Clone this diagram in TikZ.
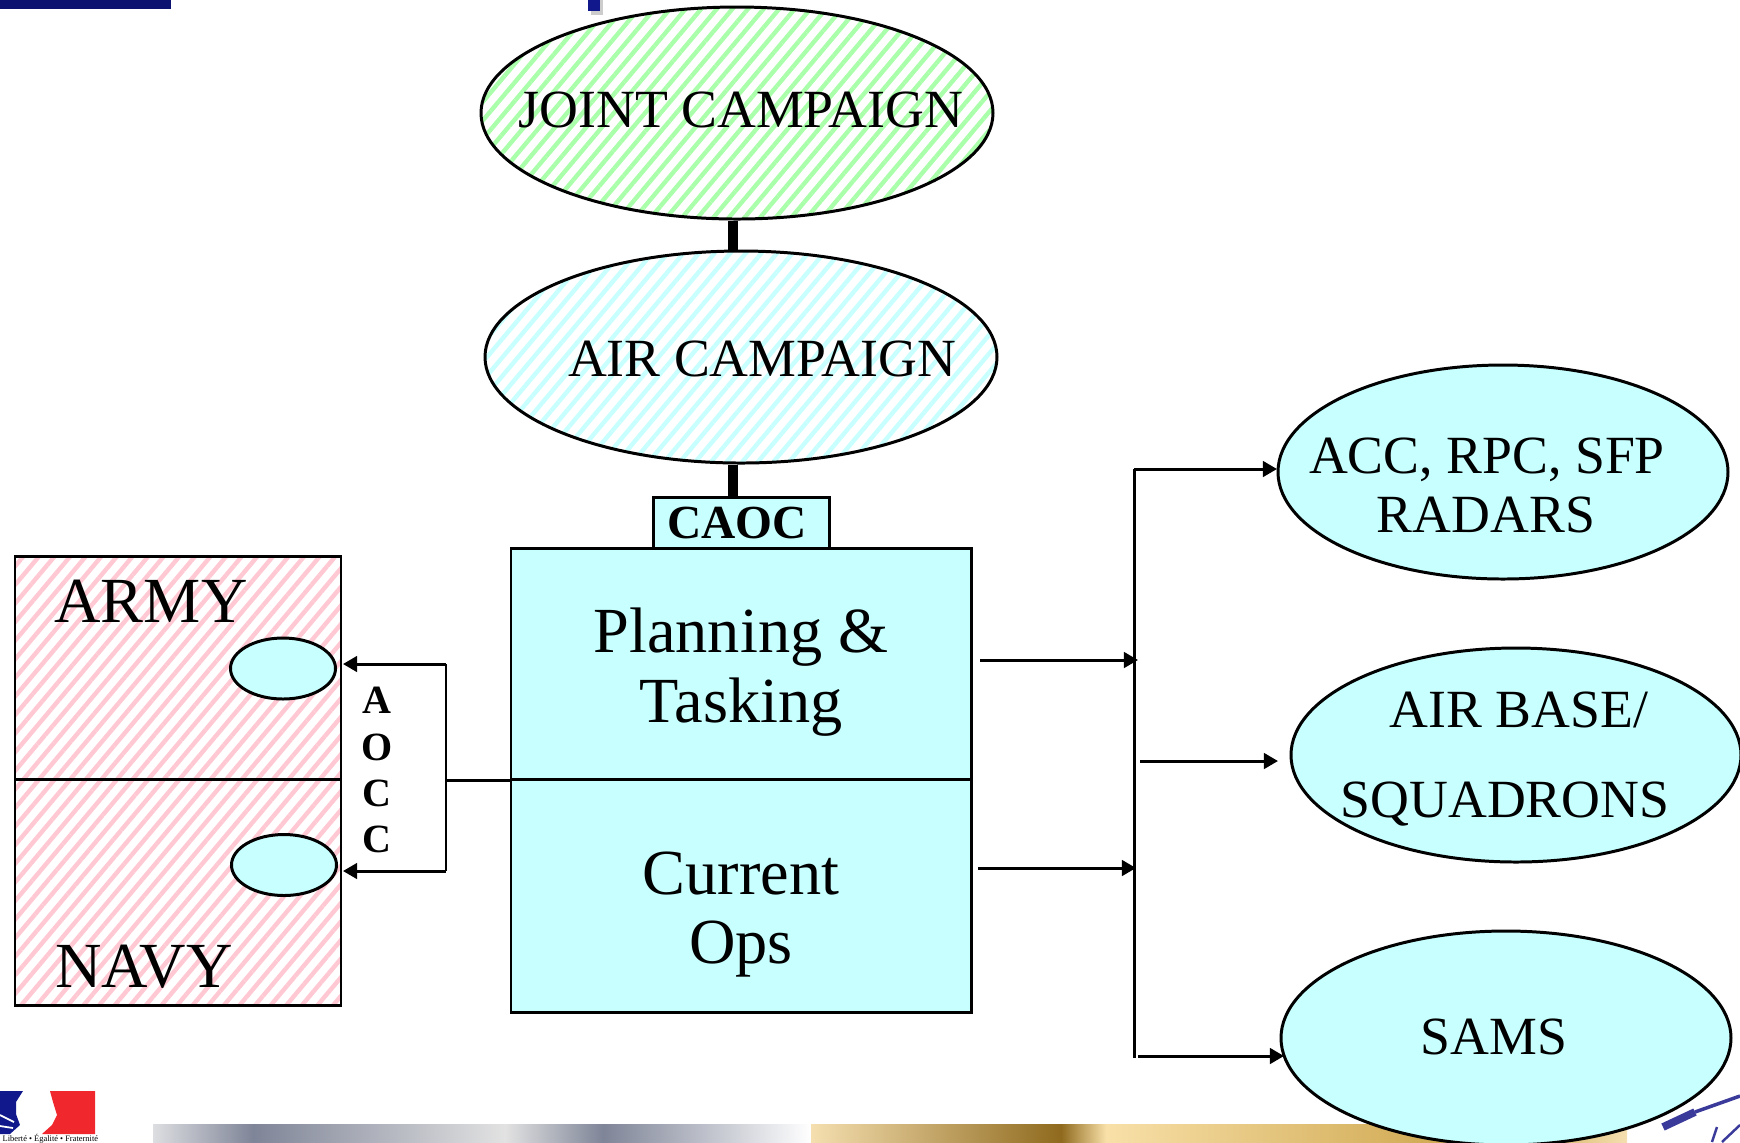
\documentclass[tikz,border=0pt]{standalone}
\usepackage{fontspec}
\setmainfont{Liberation Serif}
\usepackage{tikz}
\usetikzlibrary{shapes.geometric,patterns.meta,arrows.meta}
\definecolor{cyanfill}{HTML}{C8FFFF}
\definecolor{pinkline}{HTML}{FFC8D2}
\definecolor{greenline}{HTML}{AAFFAA}
\definecolor{navybar}{HTML}{0C1270}
\definecolor{flagblue}{HTML}{10188C}
\definecolor{flagred}{HTML}{F0282E}
\definecolor{grayA}{HTML}{DDDEE1}
\definecolor{grayB}{HTML}{7F8598}
\definecolor{grayC}{HTML}{E2E2E2}
\definecolor{goldA}{HTML}{F5DFB0}
\definecolor{goldB}{HTML}{8F6A1E}
\definecolor{goldC}{HTML}{F8E0A8}
\definecolor{goldD}{HTML}{C9A044}
\definecolor{inkblue}{HTML}{3A3A9A}
\tikzset{
  outline/.style={draw=black,line width=0.85pt,inner sep=0pt},
  bigoval/.style={outline,ellipse,minimum width=5.12cm,minimum height=2.12cm},
  sideoval/.style={outline,ellipse,fill=cyanfill,minimum width=4.50cm,minimum height=2.14cm},
  smalloval/.style={outline,ellipse,fill=cyanfill,minimum width=1.05cm,minimum height=0.61cm},
  greenhatch/.style={pattern={Lines[angle=50,distance=3.4pt,line width=1.25pt]},pattern color=greenline},
  cyanhatch/.style={pattern={Lines[angle=50,distance=3.4pt,line width=1.25pt]},pattern color=cyanfill},
  pinkhatch/.style={pattern={Lines[angle=50,distance=3.4pt,line width=1.25pt]},pattern color=pinkline},
  servicebox/.style={outline,rectangle,pinkhatch,minimum width=3.26cm},
  cellbox/.style={outline,rectangle,fill=cyanfill,minimum width=4.60cm},
  txtA/.style={anchor=base,inner sep=0pt,font=\fontsize{15.3}{18}\selectfont},
  txtB/.style={anchor=base,inner sep=0pt,font=\fontsize{18.3}{22}\selectfont},
  txtC/.style={anchor=base,inner sep=0pt,font=\fontsize{13.5}{16}\selectfont\bfseries},
  txtD/.style={anchor=base,inner sep=0pt,font=\fontsize{11.4}{14}\selectfont\bfseries},
  heavy/.style={line width=2.85pt},
  feed/.style={line width=0.85pt},
  tip/.style={line width=0.85pt,-{Triangle[length=4pt,width=4.4pt]}},
}
\begin{document}
\begin{tikzpicture}[x=1cm,y=-1cm]
    \useasboundingbox (0,0) rectangle (17.40,11.42);

    % slide furniture
    \fill[navybar] (0,0) rectangle (1.71,0.09);
    \fill[black!20] (5.91,0) rectangle (6.03,0.15);
    \fill[flagblue] (5.88,0) rectangle (6.00,0.11);
    \shade[left color=grayA,right color=grayB] (1.53,11.24) rectangle (2.53,11.42);
    \shade[left color=grayB,right color=grayC] (2.53,11.24) rectangle (5.05,11.42);
    \shade[left color=grayC,right color=grayB] (5.05,11.24) rectangle (6.03,11.42);
    \shade[left color=grayB,right color=white] (6.03,11.24) rectangle (8.11,11.42);
    \shade[left color=goldA,right color=goldB] (8.11,11.24) rectangle (10.61,11.42);
    \shade[left color=goldB,right color=goldC] (10.61,11.24) rectangle (11.06,11.42);
    \shade[left color=goldC,right color=goldD] (11.06,11.24) rectangle (15.00,11.42);
    \shade[left color=goldD,right color=goldA] (15.00,11.24) rectangle (16.27,11.42);

    % logo and signature
    \fill[flagblue] (0,10.91) -- (0.23,10.91) -- (0.16,11.02) -- (0.16,11.14) -- (0.20,11.25) -- (0.10,11.34) -- (0,11.34) -- cycle;
    \draw[white,line width=0.5pt] (0,11.15) -- (0.14,11.22);
    \draw[white,line width=0.5pt] (0,11.26) -- (0.13,11.28);
    \fill[flagred] (0.50,10.91) -- (0.95,10.91) -- (0.95,11.34) -- (0.42,11.34) -- (0.52,11.25) -- (0.57,11.15) -- (0.53,11.02) -- cycle;
    \node[anchor=base west,inner sep=0pt,font=\fontsize{2.4}{3}\selectfont] (motto) at (0.02,11.41) {Liberté • Égalité • Fraternité};
    \draw[inkblue,line width=2.2pt] (16.63,11.27) -- (16.95,11.12);
    \draw[inkblue,line width=1pt] (16.95,11.12) -- (17.40,10.96);
    \draw[inkblue,line width=0.7pt] (17.17,11.27) -- (17.12,11.42);
    \draw[inkblue,line width=0.7pt] (17.40,11.25) -- (17.22,11.42);

    % campaign chain
    \node[bigoval,greenhatch] (joint) at (7.37,1.13) {};
    \node[bigoval,cyanhatch] (air) at (7.41,3.57) {};
    \node[outline,rectangle,fill=cyanfill,minimum width=1.76cm,minimum height=0.51cm] (caoc) at (7.41,5.225) {};
    \node[cellbox,minimum height=2.31cm] (plan) at (7.41,6.635) {};
    \node[cellbox,minimum height=2.33cm] (ops) at (7.41,8.955) {};
    \draw[heavy] ([xshift=-0.04cm]joint.south) -- ([xshift=-0.08cm]air.north);
    \draw[heavy] ([xshift=-0.08cm]air.south) -- ([xshift=-0.08cm]caoc.north);

    % services on the left
    \node[servicebox,minimum height=2.23cm] (army) at (1.78,6.675) {};
    \node[servicebox,minimum height=2.26cm] (navy) at (1.78,8.92) {};
    \node[smalloval] (armyoval) at (2.83,6.685) {};
    \node[smalloval] (navyoval) at (2.84,8.65) {};

    % AOCC link
    \coordinate (upper) at (4.46,6.64);
    \coordinate (lower) at (4.46,8.71);
    \coordinate (upperend) at (3.43,6.64);
    \coordinate (lowerend) at (3.43,8.71);
    \draw[feed] (plan.south west) -- (plan.south west -| upper);
    \draw[feed] (upper) -- (lower);
    \draw[tip] (upper) -- (upperend);
    \draw[tip] (lower) -- (lowerend);

    % units on the right
    \node[sideoval] (radars) at (15.03,4.72) {};
    \node[sideoval] (bases) at (15.16,7.55) {};
    \node[sideoval] (sams) at (15.06,10.38) {};

    % feed lines on the right
    \coordinate (bustop) at (11.34,4.69);
    \coordinate (busbottom) at (11.34,10.58);
    \coordinate (radarin) at (12.77,4.69);
    \coordinate (planout) at (9.80,6.60);
    \coordinate (planin) at (11.38,6.60);
    \coordinate (opsout) at (9.78,8.68);
    \coordinate (opsin) at (11.36,8.68);
    \coordinate (baseout) at (11.40,7.61);
    \coordinate (basein) at (12.78,7.61);
    \coordinate (samsout) at (11.38,10.56);
    \coordinate (samsin) at (12.84,10.56);
    \draw[feed] (bustop) -- (busbottom);
    \draw[tip] (bustop) -- (radarin);
    \draw[tip] (planout) -- (planin);
    \draw[tip] (opsout) -- (opsin);
    \draw[tip] (baseout) -- (basein);
    \draw[tip] (samsout) -- (samsin);

    % labels
    \node[txtA] (jointtxt) at (7.41,1.27) {JOINT CAMPAIGN};
    \node[txtA] (airtxt) at (7.62,3.76) {AIR CAMPAIGN};
    \node[txtC] (caoctxt) at (7.37,5.38) {CAOC};
    \node[txtB] (plantxt) at (7.41,6.52) {Planning \&};
    \node[txtB] (tasktxt) at (7.41,7.22) {Tasking};
    \node[txtB] (currenttxt) at (7.41,8.94) {Current};
    \node[txtB] (opstxt) at (7.41,9.63) {Ops};
    \node[txtB] (armytxt) at (1.51,6.22) {ARMY};
    \node[txtB] (navytxt) at (1.44,9.87) {NAVY};
    \node[txtA] (acctxt) at (14.87,4.73) {ACC, RPC, SFP};
    \node[txtA] (radartxt) at (14.86,5.32) {RADARS};
    \node[txtA] (basetxt) at (15.19,7.27) {AIR BASE/};
    \node[txtA] (squadtxt) at (15.05,8.17) {SQUADRONS};
    \node[txtA] (samstxt) at (14.94,10.54) {SAMS};
    \node[txtD] (aocca) at (3.77,7.13) {A};
    \node[txtD] (aoccb) at (3.77,7.60) {O};
    \node[txtD] (aoccc) at (3.77,8.06) {C};
    \node[txtD] (aoccd) at (3.77,8.52) {C};
\end{tikzpicture}
\end{document}
